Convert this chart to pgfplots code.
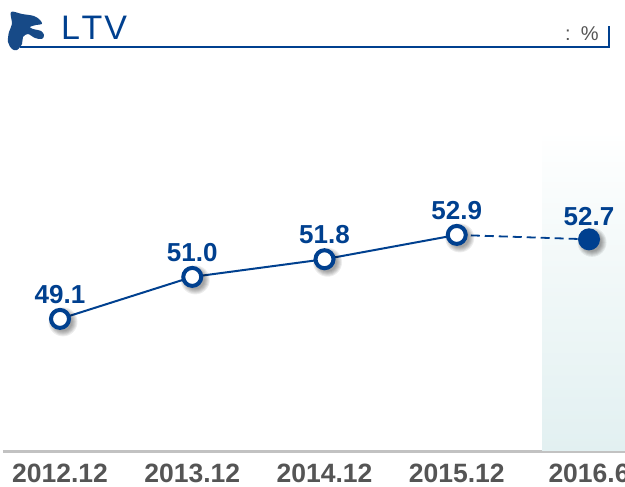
\documentclass[border=0pt]{standalone}
\usepackage{fontspec}
\setmainfont{Liberation Sans}
\usepackage{pgfplots}
\pgfplotsset{compat=1.18}
\definecolor{ltvblue}{HTML}{00408F}
\definecolor{ticktext}{HTML}{555555}
\definecolor{panelmid}{HTML}{F3F9F9}
\definecolor{panelbot}{HTML}{E2F0F1}
\definecolor{logoblue}{HTML}{174A87}
\pgfdeclareplotmark{shadowed}{%
  \pgfsetfillcolor{black}\pgfsetstrokeopacity{0}\pgfsetfillopacity{0.07}%
  \foreach \r in {14.5,13.5,12.5,11.5,10.5,9.5}{%
    \pgfpathcircle{\pgfpoint{3pt}{-3pt}}{\r pt}\pgfusepath{fill}}%
}
\pgfdeclareplotmark{opencirc}{%
  \begin{pgfscope}\pgfuseplotmark{shadowed}\end{pgfscope}%
  \pgfsetstrokeopacity{1}\pgfsetfillopacity{1}%
  \pgfsetlinewidth{4pt}\pgfsetstrokecolor{ltvblue}\pgfsetfillcolor{white}%
  \pgfpathcircle{\pgfpointorigin}{9pt}\pgfusepath{fill,stroke}%
}
\pgfdeclareplotmark{filledcirc}{%
  \begin{pgfscope}\pgfuseplotmark{shadowed}\end{pgfscope}%
  \pgfsetstrokeopacity{1}\pgfsetfillopacity{1}%
  \pgfsetfillcolor{ltvblue}%
  \pgfpathcircle{\pgfpointorigin}{11pt}\pgfusepath{fill}%
}
\begin{document}
\begin{tikzpicture}
\clip (0,0) rectangle (625pt,487pt);
\begin{axis}[
  at={(3pt,35.5pt)}, anchor=south west,
  scale only axis, width=622pt, height=451.5pt,
  xmin=-0.431, xmax=4.272, ymin=43.1, ymax=63.53,
  axis x line=bottom, axis y line=none,
  axis line style={-, draw=black!24, line width=3pt},
  xtick={0,1,2,3,4},
  xticklabels={2012.12,2013.12,2014.12,2015.12,2016.6},
  major tick length=0pt,
  xticklabel style={font=\fontsize{26.5}{26.5}\selectfont\bfseries, text=ticktext, inner sep=0pt, anchor=north, yshift=-12pt},
  clip=false,
  /pgf/number format/.cd, fixed, fixed zerofill, precision=1, assume math mode=true,
  /pgfplots/.cd,
  every node near coord/.style={font=\fontsize{26}{26}\selectfont\bfseries, text=ltvblue, inner sep=0pt, anchor=south, yshift=13pt},
]
\fill[top color=white, bottom color=panelmid, draw=none] (axis cs:3.645,52.0) rectangle (axis cs:4.272,57.65);
\fill[top color=panelmid, bottom color=panelbot, draw=none] (axis cs:3.645,43.13) rectangle (axis cs:4.272,52.0);
\addplot[ltvblue, line width=1.8pt, dashed, dash pattern=on 9pt off 5pt, mark=none] coordinates {(3,52.9) (4,52.7)};
\addplot[ltvblue, line width=2pt, mark=opencirc, nodes near coords] coordinates {(0,49.1) (1,51.0) (2,51.8) (3,52.9)};
\addplot[ltvblue, only marks, mark=filledcirc, nodes near coords] coordinates {(4,52.7)};
\end{axis}
\begin{scope}[shift={(0,487pt)}, x=1pt, y=-1pt]
\fill[logoblue] plot[smooth cycle, tension=0.55] coordinates {(11,12) (22,14) (34,16) (40,20) (42,24) (36,25) (30,27) (33,29) (41,31) (44,35) (42,39) (35,38) (28,34) (23,37) (22,44) (17,50) (12,49) (8,42) (9,32) (12,24)};
\draw[ltvblue, line width=2pt, line join=miter] (20,47.5) -- (608.5,47.5) -- (608.5,26);
\node[anchor=base west, inner sep=0pt, text=ltvblue, font=\fontsize{34}{34}\selectfont] at (61,39.5) {L\kern1.5pt T\kern2pt V};
\node[anchor=base west, inner sep=0pt, text=ticktext, font=\fontsize{20}{20}\selectfont] at (565,40.5) {:\kern10pt\%};
\end{scope}
\end{tikzpicture}
\end{document}
